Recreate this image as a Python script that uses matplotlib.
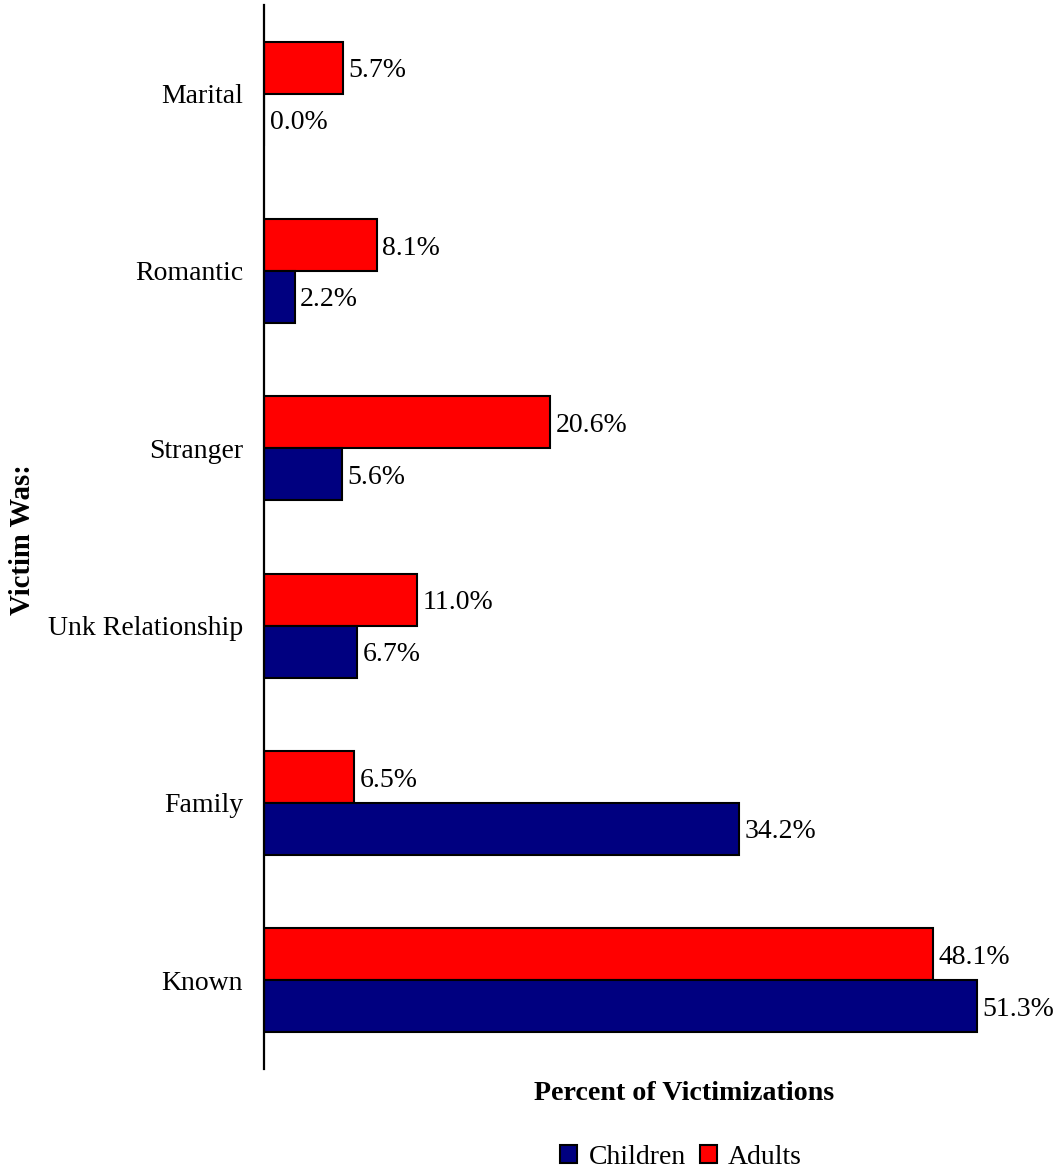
import matplotlib
matplotlib.use("Agg")
import matplotlib.pyplot as plt
import numpy as np
from matplotlib.patches import Patch

categories = ["Marital", "Romantic", "Stranger", "Unk Relationship", "Family", "Known"]
children = [0.0, 2.2, 5.6, 6.7, 34.2, 51.3]
adults = [5.7, 8.1, 20.6, 11.0, 6.5, 48.1]
series_names = ["Children", "Adults"]

NAVY = "#000080"
RED = "#FF0000"
FS = 20

plt.rcParams["font.family"] = ["Liberation Serif", "DejaVu Serif"]

W, H = 1057, 1172
fig = plt.figure(figsize=(W / 100, H / 100), dpi=100)
left, top, bottom = 264, 5, 1069
xmax = 60
pxper = 13.9
ax = fig.add_axes([left / W, 1 - bottom / H, xmax * pxper / W, (bottom - top) / H])

y = np.arange(len(categories))
h = 0.293
ba = ax.barh(y - h / 2, adults, height=h, color=RED, edgecolor="black", linewidth=1.5, zorder=2)
bc = ax.barh(y + h / 2, children, height=h, color=NAVY, edgecolor="black", linewidth=1.5, zorder=2)

for bars, vals in ((ba, adults), (bc, children)):
    for b, v in zip(bars, vals):
        ax.annotate(f"{v:.1f}%", xy=(v, b.get_y() + b.get_height() / 2),
                    xytext=(4, 0), textcoords="offset points",
                    ha="left", va="center_baseline", fontsize=FS)

ax.set_xlim(0, xmax)
ax.set_ylim(len(categories) - 0.5, -0.5)
ax.set_yticks(y)
ax.set_yticklabels(categories, fontsize=FS)
ax.tick_params(axis="y", length=0, pad=15)
ax.set_xticks([])
for s in ("top", "right", "bottom"):
    ax.spines[s].set_visible(False)
ax.spines["left"].set_linewidth(1.6)
ax.spines["left"].set_zorder(3)

fig.text(22 / W, 1 - 540 / H, "Victim Was:", rotation=90, ha="center", va="center",
         fontsize=20.7, fontweight="bold")
fig.text(684 / W, 1 - 1094 / H, "Percent of Victimizations", ha="center", va="center",
         fontsize=20.2, fontweight="bold")

handles = [Patch(facecolor=NAVY, edgecolor="black", linewidth=1.5),
           Patch(facecolor=RED, edgecolor="black", linewidth=1.5)]
fig.legend(handles, series_names, loc="center", bbox_to_anchor=(681 / W, 1 - 1157 / H),
           ncol=2, frameon=False, fontsize=FS, handlelength=0.62, handleheight=0.62,
           handletextpad=0.4, columnspacing=0.5, borderpad=0)

fig.savefig("out.png", dpi=100)
